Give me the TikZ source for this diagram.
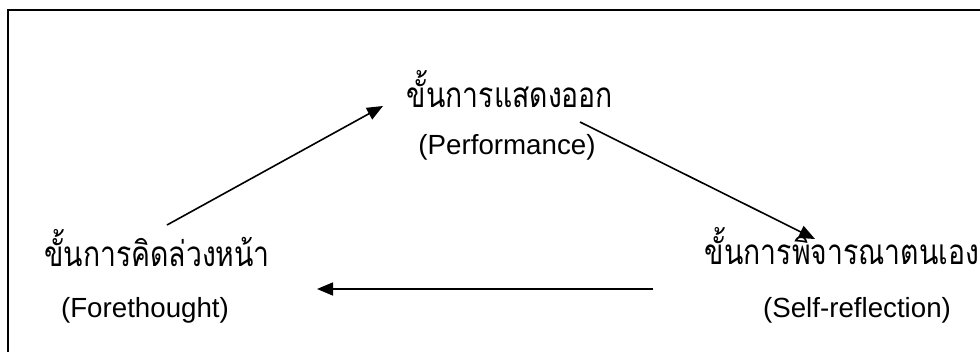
\documentclass[tikz,border=0pt]{standalone}
\usepackage{fontspec}
\setmainfont{Liberation Sans}
\newfontfamily\thaifont[Script=Thai,FakeStretch=0.81]{Loma}
\usetikzlibrary{arrows.meta}
\begin{document}
\begin{tikzpicture}[x=1pt,y=1pt,
  thai/.style={inner sep=0pt, anchor=base, font=\thaifont\fontsize{35}{40}\selectfont},
  eng/.style={inner sep=0pt, anchor=base, font=\fontsize{27.7}{32}\selectfont},
  conn/.style={line width=1.6pt, -{Triangle[length=16pt,width=13pt]}}]
\useasboundingbox (0,0) rectangle (980,-352);
\draw[line width=2pt] (990,-10) -- (8,-10) -- (8,-360);
% texts
\node[thai] (perfT) at (510,-108) {ขั้นการแสดงออก};
\node[eng]  (perfE) at (507,-155) {(Performance)};
\node[thai] (foreT) at (157,-267) {ขั้นการคิดล่วงหน้า};
\node[eng]  (foreE) at (145,-318) {(Forethought)};
\node[thai] (selfT) at (842,-265) {ขั้นการพิจารณาตนเอง};
\node[eng]  (selfE) at (857,-318) {(Self-reflection)};
% connector ends
\coordinate (a1s) at (167,-225);
\coordinate (a1e) at (383,-106);
\coordinate (a2s) at (580,-122);
\coordinate (a2e) at (815,-239);
\coordinate (a3s) at (653,-289);
\coordinate (a3e) at (317,-289);
\draw[conn] (a1s) -- (a1e);
\draw[conn] (a2s) -- (a2e);
\draw[conn] (a3s) -- (a3e);
\end{tikzpicture}
\end{document}
